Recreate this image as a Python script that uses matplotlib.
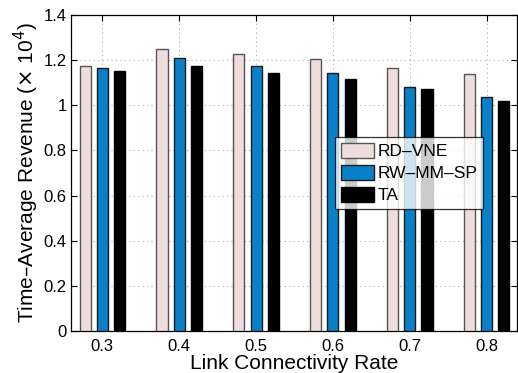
import matplotlib
matplotlib.use("Agg")
import matplotlib.pyplot as plt
import numpy as np

plt.rcParams['font.family'] = ['Liberation Sans', 'DejaVu Sans']

rates = [0.3, 0.4, 0.5, 0.6, 0.7, 0.8]
rd_vne = [1.175, 1.250, 1.228, 1.206, 1.166, 1.138]
rw_mm_sp = [1.166, 1.210, 1.175, 1.145, 1.083, 1.037]
ta = [1.151, 1.175, 1.144, 1.117, 1.073, 1.018]
series_names = ['RD–VNE', 'RW–MM–SP', 'TA']
colors = ['#EEDDDD', '#0A80C8', '#000000']
edges = ['#555555', '#1a1a1a', '#000000']

fig = plt.figure(figsize=(5.18, 3.73), dpi=100)
ax = fig.add_axes([71/518, 1-331/373, (517-71)/518, (331-15)/373])

x = np.array(rates)
off = 0.0221
w = 0.0143
for i, (vals, name) in enumerate(zip([rd_vne, rw_mm_sp, ta], series_names)):
    ax.bar(x + (i-1)*off, vals, width=w, color=colors[i], edgecolor=edges[i],
           linewidth=1.0, label=name, zorder=3)

ax.set_xlim(0.2597, 0.839)
ax.set_ylim(0, 1.4)
ax.set_xticks(rates)
ax.set_xticklabels([str(r) for r in rates])
ax.set_yticks([0, 0.2, 0.4, 0.6, 0.8, 1.0, 1.2, 1.4])
ax.set_yticklabels(['0', '0.2', '0.4', '0.6', '0.8', '1', '1.2', '1.4'])
ax.tick_params(direction='in', labelsize=12, length=4, top=True, right=True)
ax.tick_params(axis='x', pad=6)
ax.tick_params(axis='y', pad=3)
ax.grid(True, linestyle=(0, (1, 3)), color='#aaaaaa', linewidth=0.8, zorder=0)
ax.set_axisbelow(True)
for s in ax.spines.values():
    s.set_linewidth(0.9)
ax.set_xlabel('Link Connectivity Rate', fontsize=15, labelpad=0)
ax.set_ylabel(r'Time–Average Revenue ($\times$ 10$^4$)', fontsize=15, labelpad=2)

leg = ax.legend(loc='upper left', bbox_to_anchor=((334.7-71)/446, (331-136.7)/316),
                fontsize=12.5, frameon=True, fancybox=False, edgecolor='black',
                borderpad=0.35, labelspacing=0.3, handlelength=1.9, handleheight=1.0,
                handletextpad=0.2, borderaxespad=0)
leg.get_frame().set_linewidth(0.9)

fig.savefig('out.png', dpi=100)
